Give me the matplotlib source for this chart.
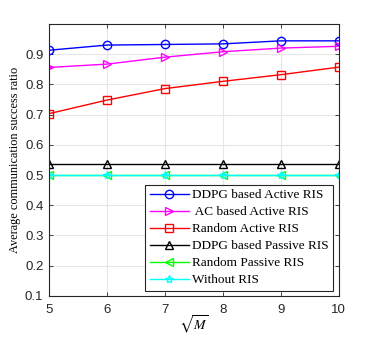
import numpy as np
import matplotlib.pyplot as plt

x = [5, 6, 7, 8, 9, 10]
ddpg_active = [0.913, 0.930, 0.932, 0.934, 0.944, 0.944]
ac_active = [0.856, 0.867, 0.890, 0.908, 0.920, 0.926]
random_active = [0.703, 0.748, 0.786, 0.810, 0.832, 0.857]
ddpg_passive = [0.535, 0.535, 0.535, 0.535, 0.535, 0.535]
random_passive = [0.5, 0.5, 0.5, 0.5, 0.5, 0.5]
without_ris = [0.5, 0.5, 0.5, 0.5, 0.5, 0.5]

plt.rcParams['mathtext.fontset'] = 'stix'

fig = plt.figure(figsize=(3.74, 3.37), dpi=100)
ax = fig.add_axes([0.131, 0.122, 0.775, 0.807])

kw = dict(lw=1.0, ms=6, mfc='none', mew=1.0)
ax.plot(x, ddpg_active, '-o', color='#0000ff', label='DDPG based Active RIS', **kw)
ax.plot(x, ac_active, '->', color='#ff00ff', label=' AC based Active RIS', **kw)
ax.plot(x, random_active, '-s', color='#ff0000', label='Random Active RIS', **kw)
ax.plot(x, ddpg_passive, '-^', color='#000000', label='DDPG based Passive RIS', **kw)
ax.plot(x, random_passive, '-<', color='#00ff00', label='Random Passive RIS', **kw)
ax.plot(x, without_ris, '-*', color='#00ffff', label='Without RIS', **kw)

ax.set_xlim(5, 10)
ax.set_ylim(0.1, 1.0)
ax.set_xticks(x)
ax.set_yticks([0.1, 0.2, 0.3, 0.4, 0.5, 0.6, 0.7, 0.8, 0.9])
ax.grid(True, color='#e6e6e6', lw=0.8)
ax.set_axisbelow(True)
ax.tick_params(direction='in', top=True, right=True, length=3, width=0.6,
               colors='#262626', labelsize=9.5, pad=4)
ax.tick_params(axis='x', pad=6)
for lab in ax.get_xticklabels() + ax.get_yticklabels():
    lab.set_family('Liberation Sans')
for s in ax.spines.values():
    s.set_color('#262626')
    s.set_linewidth(0.8)

ax.set_xlabel(r'$\sqrt{M}$', family='Liberation Serif', fontsize=10, labelpad=-2)
ax.set_ylabel('Average communication success ratio', family='Liberation Serif',
              fontsize=8.8, labelpad=3)

leg = ax.legend(loc='lower right', bbox_to_anchor=(0.98, 0.018),
                prop={'family': 'Liberation Serif', 'size': 9.5},
                fancybox=False, framealpha=1, edgecolor='#262626',
                handlelength=3.0, handletextpad=0.2, labelspacing=0.36,
                borderpad=0.35, borderaxespad=0)
leg.get_frame().set_linewidth(0.8)

fig.savefig('out.png', dpi=100)
